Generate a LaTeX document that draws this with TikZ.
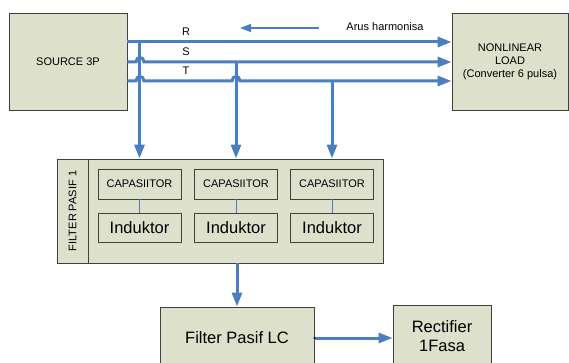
\documentclass[tikz,border=0pt]{standalone}
\usepackage{fontspec}
\setmainfont{Liberation Sans}
\usetikzlibrary{arrows.meta}
\definecolor{busblue}{RGB}{74,126,193}
\definecolor{boxfill}{RGB}{221,224,203}
\tikzset{
    blok/.style={draw=black!75, fill=boxfill, line width=0.9pt, inner sep=0pt, align=center},
    bus/.style={busblue, line width=3pt},
    bustip/.style={-{Triangle[length=14pt,width=10pt]}},
    big/.style={font=\fontsize{16.5}{19}\selectfont},
}
\begin{document}
\begin{tikzpicture}[x=1pt, y=-1pt, font=\fontsize{11}{13}\selectfont]
    \clip (0,0) rectangle (569,363);

    % Source and load
    \node[blok, minimum width=118pt, minimum height=97pt] (src) at (68,61.5) {SOURCE 3P};
    \node[blok, minimum width=116pt, minimum height=97pt] (load) at (510,61.5) {NONLINEAR\\LOAD\\(Converter 6 pulsa)};

    % Filter pasif 1
    \node[blok, minimum width=326pt, minimum height=104pt] (filter) at (220,211) {};
    \draw[black!75, line width=0.9pt] (filter.north west -| 88,0) -- (filter.south west -| 88,0);
    \node[rotate=90] (flabel) at (72.5,211) {FILTER PASIF 1};

    \foreach \x/\i in {139.5/1,236/2,332/3} {
        \node[blok, minimum width=83pt, minimum height=30pt] (cap\i) at (\x,184) {CAPASIITOR};
        \node[blok, big, minimum width=83pt, minimum height=29pt] (ind\i) at (\x,227.5) {Induktor};
        \draw[busblue, line width=0.8pt] (cap\i) -- (ind\i);
    }

    % Phase lines R S T
    \coordinate (rtap) at (cap1 |- 0,42);
    \coordinate (stap) at (cap2 |- 0,62);
    \coordinate (ttap) at (cap3 |- 0,81);
    \draw[bus, bustip] (src.east |- rtap) -- (load.west |- rtap);
    \draw[bus, bustip] (src.east |- stap) -- (136,62) .. controls (136,56) and (144,56) .. (144,62)
        -- (load.west |- stap);
    \draw[bus, bustip] (src.east |- ttap) -- (136,81) .. controls (136,75) and (144,75) .. (144,81)
        -- (232,81) .. controls (232,75) and (240,75) .. (240,81) -- (load.west |- ttap);

    \node (lr) at (186,32) {R};
    \node (ls) at (186,52) {S};
    \node (lt) at (186,71) {T};

    % Taps to the filter
    \draw[bus, bustip] (rtap) -- (cap1 |- filter.north);
    \draw[bus, bustip] (stap) -- (cap2 |- filter.north);
    \draw[bus, bustip] (ttap) -- (cap3 |- filter.north);

    % Harmonic current
    \coordinate (hstart) at (319,28);
    \coordinate (hend) at (240,28);
    \draw[busblue, line width=1.5pt, -{Triangle[length=11pt,width=8pt]}] (hstart) -- (hend);
    \node (harm) at (385,27) {Arus harmonisa};

    % Filter LC and rectifier
    \node[blok, big, minimum width=154pt, minimum height=62pt] (lc) at (237,338) {Filter Pasif LC};
    \node[blok, big, minimum width=98pt, minimum height=62pt] (rect) at (442,336) {Rectifier\\1Fasa};
    \draw[bus, bustip] (lc |- filter.south) -- (lc.north);
    \draw[bus, bustip] (lc.east) -- (lc.east -| rect.west);
    \fill (lc.east) circle [radius=1.2];
\end{tikzpicture}
\end{document}
